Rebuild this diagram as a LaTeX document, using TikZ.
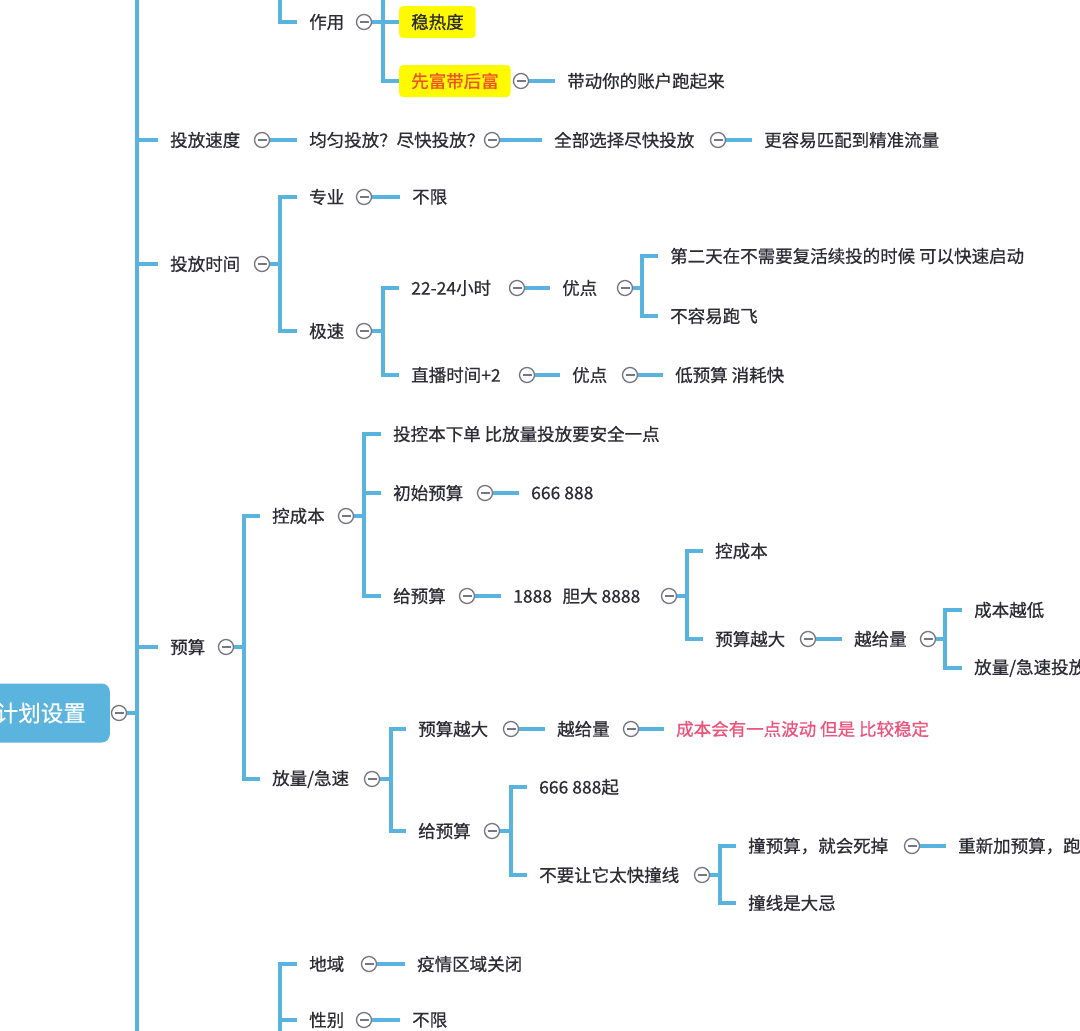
\documentclass[tikz,border=0pt]{standalone}
\usepackage{fontspec}
\setmainfont{Noto Sans CJK SC}[UprightFeatures={FakeBold=0.6}]
\definecolor{lb}{RGB}{88,180,222}
\definecolor{rootfill}{RGB}{90,180,222}
\definecolor{txt}{RGB}{44,44,52}
\definecolor{cg}{RGB}{118,118,132}
\definecolor{hly}{RGB}{255,250,0}
\definecolor{hlred}{RGB}{240,80,40}
\definecolor{pinkt}{RGB}{236,82,124}
\newcommand{\mmfont}{\fontsize{17.5pt}{20pt}\selectfont}
\newcommand{\mmrootfont}{\fontsize{22.5pt}{26pt}\selectfont}
\tikzset{
  ln/.style={draw=lb, line width=3.2pt},
  tx/.style={anchor=west, inner xsep=12pt, inner ysep=0pt, minimum height=32pt, text=txt, font=\mmfont},
  hl/.style={tx, fill=hly, rounded corners=4pt},
  cc/.style={circle, draw=cg, line width=1.3pt, fill=white, minimum size=15pt, inner sep=0pt,
    path picture={\draw[cg, line width=1.2pt] ([xshift=-4.5pt]path picture bounding box.center) -- ([xshift=4.5pt]path picture bounding box.center);}},
  rootbox/.style={anchor=east, fill=rootfill, text=white, rounded corners=8pt, minimum height=59pt, inner xsep=24pt, inner ysep=0pt, font=\mmrootfont}
}
\begin{document}
\begin{tikzpicture}[x=1pt,y=-1pt]
\useasboundingbox (0,0) rectangle (1080,1031);
\fill[white] (0,0) rectangle (1080,1031);
\clip (0,0) rectangle (1080,1031);

% ---------- root and main spine ----------
\node[rootbox] (root) at (110,713) {计划设置};
\node[cc] (croot) at (119,713) {};
\coordinate (mtop) at (137,-10);
\coordinate (mbot) at (137,1041);
\draw[ln] (mtop) -- (mbot);
\draw[ln] (croot.east) -- (mtop |- croot.east);

% ---------- top: 作用 ----------
\coordinate (k0) at (280,-10);
\node[tx] (zy) at (297,22) {作用};
\node[cc] (czy) at (364,22) {};
\coordinate (k1) at (383,-10);
\node[hl] (wrd) at (399,22) {稳热度};
\node[hl, text=hlred] (xf) at (399,81) {先富带后富};
\node[cc] (cxf) at (521,81) {};
\node[tx] (dd) at (555,81) {带动你的账户跑起来};
\draw[ln] (k0) |- (zy.west);
\draw[ln] (czy.east) -- (k1 |- czy.east);
\draw[ln] (k1) |- (xf.west);
\draw[ln] (k1 |- wrd.west) -- (wrd.west);
\draw[ln] (cxf.east) -- (dd.west);

% ---------- 投放速度 ----------
\node[tx] (tfsd) at (158,140) {投放速度};
\node[cc] (ctfsd) at (262,140) {};
\node[tx] (jy) at (297,140) {均匀投放？尽快投放？};
\node[cc] (cjy) at (492,140) {};
\node[tx] (qb) at (542,140) {全部选择尽快投放};
\node[cc] (cqb) at (718,140) {};
\node[tx] (gr) at (752,140) {更容易匹配到精准流量};
\draw[ln] (mtop |- tfsd.west) -- (tfsd.west);
\draw[ln] (ctfsd.east) -- (jy.west);
\draw[ln] (cjy.east) -- (qb.west);
\draw[ln] (cqb.east) -- (gr.west);

% ---------- 投放时间 ----------
\node[tx] (tfsj) at (158,264) {投放时间};
\node[cc] (ctfsj) at (262,264) {};
\coordinate (k2) at (280,0);
\node[tx] (zhy) at (297,197) {专业};
\node[cc] (czhy) at (364,197) {};
\node[tx] (bx) at (400,197) {不限};
\node[tx] (js) at (297,331) {极速};
\node[cc] (cjs) at (364,331) {};
\coordinate (k3) at (383,0);
\node[tx] (t2224) at (399,288) {22-24小时};
\node[cc] (ct2224) at (517,288) {};
\node[tx] (yd1) at (550,288) {优点};
\node[cc] (cyd1) at (625,288) {};
\coordinate (k4) at (642,0);
\node[tx] (de) at (658,256) {第二天在不需要复活续投的时候 可以快速启动};
\node[tx] (br) at (658,316) {不容易跑飞};
\node[tx] (zb) at (399,375) {直播时间+2};
\node[cc] (czb) at (527,375) {};
\node[tx] (yd2) at (560,375) {优点};
\node[cc] (cyd2) at (630,375) {};
\node[tx] (dys) at (663,375) {低预算 消耗快};
\draw[ln] (mtop |- tfsj.west) -- (tfsj.west);
\draw[ln] (ctfsj.east) -- (k2 |- ctfsj.east);
\draw[ln] (zhy.west) -| (k2 |- ctfsj.east) |- (js.west);
\draw[ln] (czhy.east) -- (bx.west);
\draw[ln] (cjs.east) -- (k3 |- cjs.east);
\draw[ln] (t2224.west) -| (k3 |- cjs.east) |- (zb.west);
\draw[ln] (ct2224.east) -- (yd1.west);
\draw[ln] (cyd1.east) -- (k4 |- cyd1.east);
\draw[ln] (de.west) -| (k4 |- cyd1.east) |- (br.west);
\draw[ln] (czb.east) -- (yd2.west);
\draw[ln] (cyd2.east) -- (dys.west);

% ---------- 预算 ----------
\node[tx] (ys) at (158,647) {预算};
\node[cc] (cys) at (226,647) {};
\coordinate (k5) at (244,0);
\node[tx] (kcb) at (260,516) {控成本};
\node[cc] (ckcb) at (346,516) {};
\coordinate (k6) at (364,0);
\node[tx] (tk) at (381,434) {投控本下单 比放量投放要安全一点};
\node[tx] (cs) at (381,493) {初始预算};
\node[cc] (ccs) at (485,493) {};
\node[tx] (v666) at (519,493) {666 888};
\node[tx] (gys) at (381,596) {给预算};
\node[cc] (cgys) at (467,596) {};
\node[tx] (v1888) at (501,596) {1888\hspace{0.6em}胆大 8888};
\node[cc] (cv1888) at (669,596) {};
\coordinate (k7) at (687,0);
\node[tx] (kcb2) at (703,551) {控成本};
\node[tx] (ysyd) at (703,639) {预算越大};
\node[cc] (cysyd) at (808,639) {};
\node[tx] (ygl) at (842,639) {越给量};
\node[cc] (cygl) at (928,639) {};
\coordinate (k8) at (945,0);
\node[tx] (cbyd) at (962,610) {成本越低};
\node[tx] (flj) at (962,668) {放量/急速投放};
\node[tx] (flj2) at (260,779) {放量/急速};
\node[cc] (cflj2) at (372,779) {};
\coordinate (k9) at (391,0);
\node[tx] (ysyd2) at (406,729) {预算越大};
\node[cc] (cysyd2) at (511,729) {};
\node[tx] (ygl2) at (545,729) {越给量};
\node[cc] (cygl2) at (631,729) {};
\node[tx, text=pinkt] (bd) at (664,729) {成本会有一点波动 但是 比较稳定};
\node[tx] (gys2) at (406,831) {给预算};
\node[cc] (cgys2) at (492,831) {};
\coordinate (k10) at (511,0);
\node[tx] (v666q) at (527,787) {666 888起};
\node[tx] (bylt) at (527,875) {不要让它太快撞线};
\node[cc] (cbylt) at (702,875) {};
\coordinate (k11) at (720,0);
\node[tx] (zys) at (736,846) {撞预算，就会死掉};
\node[cc] (czys) at (912,846) {};
\node[tx] (cx) at (946,846) {重新加预算，跑};
\node[tx] (zxs) at (736,903) {撞线是大忌};
\draw[ln] (mtop |- ys.west) -- (ys.west);
\draw[ln] (cys.east) -- (k5 |- cys.east);
\draw[ln] (kcb.west) -| (k5 |- cys.east) |- (flj2.west);
\draw[ln] (ckcb.east) -- (k6 |- ckcb.east);
\draw[ln] (tk.west) -| (k6 |- ckcb.east) |- (gys.west);
\draw[ln] (k6 |- cs.west) -- (cs.west);
\draw[ln] (ccs.east) -- (v666.west);
\draw[ln] (cgys.east) -- (v1888.west);
\draw[ln] (cv1888.east) -- (k7 |- cv1888.east);
\draw[ln] (kcb2.west) -| (k7 |- cv1888.east) |- (ysyd.west);
\draw[ln] (cysyd.east) -- (ygl.west);
\draw[ln] (cygl.east) -- (k8 |- cygl.east);
\draw[ln] (cbyd.west) -| (k8 |- cygl.east) |- (flj.west);
\draw[ln] (cflj2.east) -- (k9 |- cflj2.east);
\draw[ln] (ysyd2.west) -| (k9 |- cflj2.east) |- (gys2.west);
\draw[ln] (cysyd2.east) -- (ygl2.west);
\draw[ln] (cygl2.east) -- (bd.west);
\draw[ln] (cgys2.east) -- (k10 |- cgys2.east);
\draw[ln] (v666q.west) -| (k10 |- cgys2.east) |- (bylt.west);
\draw[ln] (cbylt.east) -- (k11 |- cbylt.east);
\draw[ln] (zys.west) -| (k11 |- cbylt.east) |- (zxs.west);
\draw[ln] (czys.east) -- (cx.west);

% ---------- bottom: 地域 / 性别 ----------
\coordinate (kb) at (280,1041);
\node[tx] (dy) at (297,964) {地域};
\node[cc] (cdy) at (369,964) {};
\node[tx] (yq) at (405,964) {疫情区域关闭};
\node[tx] (xb) at (297,1020) {性别};
\node[cc] (cxb) at (364,1020) {};
\node[tx] (bx2) at (400,1020) {不限};
\draw[ln] (dy.west) -| (kb);
\draw[ln] (kb |- xb.west) -- (xb.west);
\draw[ln] (cdy.east) -- (yq.west);
\draw[ln] (cxb.east) -- (bx2.west);
\end{tikzpicture}
\end{document}
